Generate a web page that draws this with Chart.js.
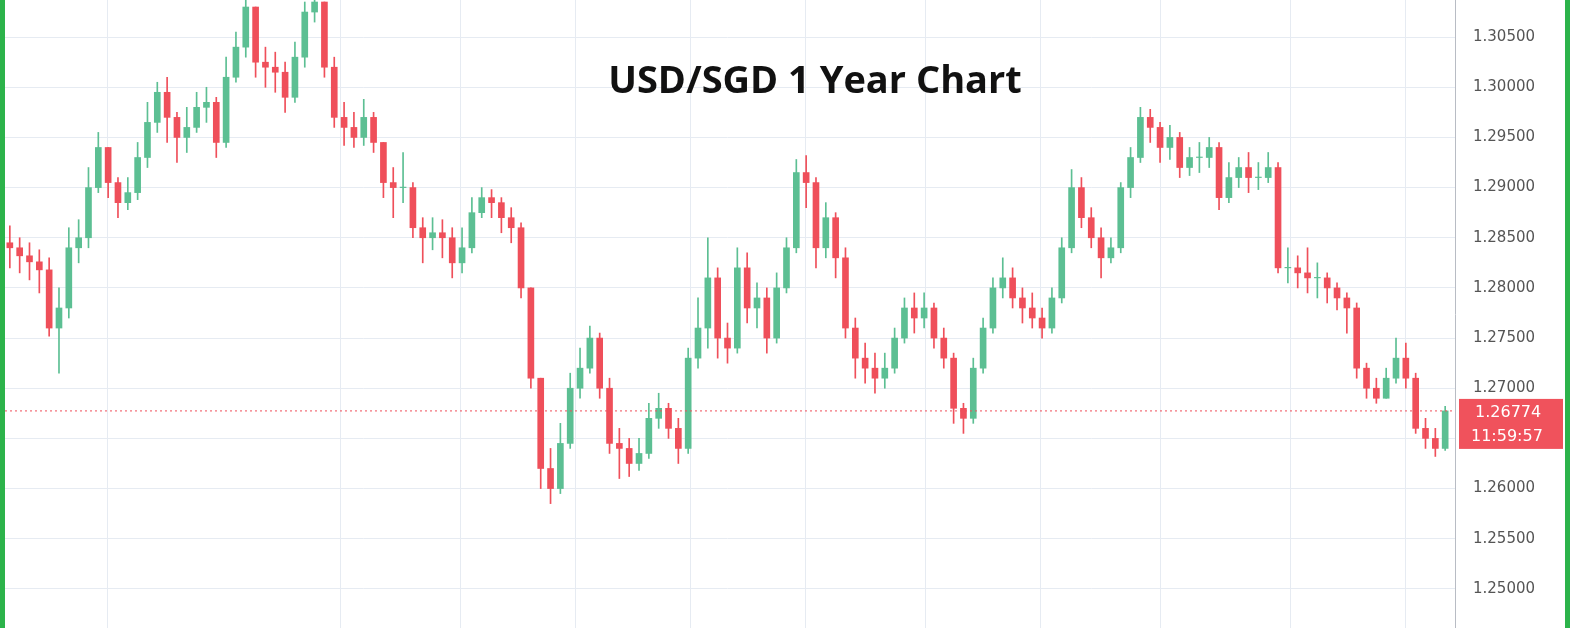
<!DOCTYPE html>
<html lang="en">
<head>
  <meta charset="UTF-8">
  <title>USD/SGD 1 Year Chart</title>
  <script src="https://cdn.jsdelivr.net/npm/chart.js"></script>
  <style>
    html, body { margin: 0; padding: 0; background: #fff; overflow: hidden; }
    .wrap { position: relative; width: 1570px; height: 628px; overflow: hidden; }
    #chart { position: absolute; left: 0; top: -28px; }
    .title {
      position: absolute; left: 0; width: 1630px; top: 52px; text-align: center;
      font-family: 'Open Sans', sans-serif; font-weight: 700; font-size: 38px; color: #111;
    }
    .edge { position: absolute; top: 0; width: 5px; height: 628px; background: #2cb34a; }
  </style>
</head>
<body>
  <div class="wrap">
    <canvas id="chart" width="1570" height="684"></canvas>
    <div class="title">USD/SGD 1 Year Chart</div>
    <div class="edge" style="left:0"></div>
    <div class="edge" style="right:0"></div>
  </div>
  <script>
    const firstOpen = 1.2845;
    const closes = [
      1.2840, 1.2832, 1.2826, 1.2818, 1.2760, 1.2780, 1.2840, 1.2850, 1.2900, 1.2940,
      1.2905, 1.2885, 1.2895, 1.2930, 1.2965, 1.2995, 1.2970, 1.2950, 1.2960, 1.2980,
      1.2985, 1.2945, 1.3010, 1.3040, 1.3080, 1.3025, 1.3020, 1.3015, 1.2990, 1.3030,
      1.3075, 1.3085, 1.3020, 1.2970, 1.2960, 1.2950, 1.2970, 1.2945, 1.2905, 1.2900,
      1.2900, 1.2860, 1.2850, 1.2855, 1.2850, 1.2825, 1.2840, 1.2875, 1.2890, 1.2885,
      1.2870, 1.2860, 1.2800, 1.2710, 1.2620, 1.2600, 1.2645, 1.2700, 1.2720, 1.2750,
      1.2700, 1.2645, 1.2640, 1.2625, 1.2635, 1.2670, 1.2680, 1.2660, 1.2640, 1.2730,
      1.2760, 1.2810, 1.2750, 1.2740, 1.2820, 1.2780, 1.2790, 1.2750, 1.2800, 1.2840,
      1.2915, 1.2905, 1.2840, 1.2870, 1.2830, 1.2760, 1.2730, 1.2720, 1.2710, 1.2720,
      1.2750, 1.2780, 1.2770, 1.2780, 1.2750, 1.2730, 1.2680, 1.2670, 1.2720, 1.2760,
      1.2800, 1.2810, 1.2790, 1.2780, 1.2770, 1.2760, 1.2790, 1.2840, 1.2900, 1.2870,
      1.2850, 1.2830, 1.2840, 1.2900, 1.2930, 1.2970, 1.2960, 1.2940, 1.2950, 1.2920,
      1.2930, 1.2930, 1.2940, 1.2890, 1.2910, 1.2920, 1.2910, 1.2910, 1.2920, 1.2820,
      1.2820, 1.2815, 1.2810, 1.2810, 1.2800, 1.2790, 1.2780, 1.2720, 1.2700, 1.2690,
      1.2710, 1.2730, 1.2710, 1.2660, 1.2650, 1.2640, 1.26774
    ];
    const highs = [
      1.2862, 1.2850, 1.2845, 1.2838, 1.2830, 1.2800, 1.2860, 1.2868, 1.2920, 1.2955,
      1.2940, 1.2910, 1.2910, 1.2945, 1.2985, 1.3005, 1.3010, 1.2975, 1.2980, 1.2995,
      1.3000, 1.2990, 1.3030, 1.3055, 1.3088, 1.3080, 1.3040, 1.3035, 1.3025, 1.3045,
      1.3085, 1.3092, 1.3085, 1.3030, 1.2985, 1.2975, 1.2988, 1.2975, 1.2945, 1.2920,
      1.2935, 1.2905, 1.2870, 1.2870, 1.2868, 1.2860, 1.2860, 1.2890, 1.2900, 1.2898,
      1.2890, 1.2880, 1.2865, 1.2800, 1.2710, 1.2640, 1.2665, 1.2715, 1.2740, 1.2762,
      1.2755, 1.2710, 1.2660, 1.2650, 1.2650, 1.2685, 1.2695, 1.2685, 1.2670, 1.2740,
      1.2790, 1.2850, 1.2820, 1.2765, 1.2840, 1.2835, 1.2805, 1.2800, 1.2815, 1.2850,
      1.2928, 1.2932, 1.2910, 1.2885, 1.2875, 1.2840, 1.2770, 1.2745, 1.2735, 1.2735,
      1.2760, 1.2790, 1.2795, 1.2795, 1.2785, 1.2760, 1.2735, 1.2685, 1.2730, 1.2770,
      1.2810, 1.2830, 1.2820, 1.2800, 1.2795, 1.2780, 1.2800, 1.2850, 1.2918, 1.2910,
      1.2880, 1.2860, 1.2850, 1.2905, 1.2940, 1.2980, 1.2978, 1.2965, 1.2962, 1.2955,
      1.2940, 1.2945, 1.2950, 1.2945, 1.2925, 1.2930, 1.2935, 1.2925, 1.2935, 1.2925,
      1.2840, 1.2832, 1.2840, 1.2825, 1.2815, 1.2805, 1.2795, 1.2785, 1.2725, 1.2710,
      1.2720, 1.2750, 1.2745, 1.2715, 1.2670, 1.2660, 1.2682
    ];
    const lows = [
      1.2820, 1.2815, 1.2808, 1.2795, 1.2752, 1.2715, 1.2770, 1.2825, 1.2840, 1.2895,
      1.2890, 1.2870, 1.2878, 1.2888, 1.2920, 1.2955, 1.2945, 1.2925, 1.2935, 1.2955,
      1.2965, 1.2930, 1.2940, 1.3005, 1.3030, 1.3010, 1.3000, 1.2995, 1.2975, 1.2985,
      1.3020, 1.3065, 1.3010, 1.2960, 1.2942, 1.2940, 1.2942, 1.2935, 1.2890, 1.2870,
      1.2885, 1.2850, 1.2825, 1.2838, 1.2830, 1.2810, 1.2815, 1.2835, 1.2870, 1.2870,
      1.2855, 1.2845, 1.2790, 1.2700, 1.2600, 1.2585, 1.2595, 1.2640, 1.2690, 1.2715,
      1.2690, 1.2635, 1.2610, 1.2612, 1.2618, 1.2630, 1.2660, 1.2650, 1.2625, 1.2635,
      1.2720, 1.2740, 1.2730, 1.2725, 1.2735, 1.2765, 1.2760, 1.2735, 1.2745, 1.2795,
      1.2835, 1.2880, 1.2820, 1.2830, 1.2810, 1.2750, 1.2710, 1.2705, 1.2695, 1.2700,
      1.2715, 1.2745, 1.2755, 1.2760, 1.2740, 1.2720, 1.2665, 1.2655, 1.2665, 1.2715,
      1.2755, 1.2790, 1.2780, 1.2765, 1.2760, 1.2750, 1.2755, 1.2785, 1.2835, 1.2860,
      1.2840, 1.2810, 1.2825, 1.2835, 1.2890, 1.2925, 1.2945, 1.2925, 1.2928, 1.2910,
      1.2912, 1.2915, 1.2920, 1.2878, 1.2885, 1.2900, 1.2895, 1.2898, 1.2905, 1.2815,
      1.2805, 1.2800, 1.2795, 1.2790, 1.2785, 1.2778, 1.2755, 1.2710, 1.2690, 1.2685,
      1.2690, 1.2705, 1.2700, 1.2655, 1.2640, 1.2632, 1.2638
    ];
    const monthGridAt = [9.9, 33.6, 45.8, 57.5, 69.2, 80.9, 93.1, 104.8, 117, 130.2, 141.9];
    const yTicks = [1.250, 1.255, 1.260, 1.265, 1.270, 1.275, 1.280, 1.285, 1.290, 1.295, 1.300, 1.305];
    const lastPrice = 1.26774;
    const timeLeft = '11:59:57';

    const opens = closes.map((c, i) => i === 0 ? firstOpen : closes[i - 1]);
    const up = closes.map((c, i) => c >= opens[i]);
    const colors = up.map(u => u ? '#5cbf93' : '#ef4f5a');

    const bodies = closes.map((c, i) => ({ x: i, y: [opens[i], c === opens[i] ? c + 0.00005 : c] }));
    const wicks = closes.map((c, i) => ({ x: i, y: [lows[i], highs[i]] }));

    // vertical month lines, drawn from the x scale
    const monthGrid = {
      id: 'monthGrid',
      beforeDatasetsDraw(chart) {
        const { ctx, chartArea, scales } = chart;
        ctx.save();
        ctx.strokeStyle = '#e6ebf2';
        ctx.lineWidth = 1;
        monthGridAt.forEach(v => {
          const x = Math.round(scales.x.getPixelForValue(v)) + 0.5;
          ctx.beginPath();
          ctx.moveTo(x, chartArea.top);
          ctx.lineTo(x, chartArea.bottom);
          ctx.stroke();
        });
        ctx.restore();
      }
    };

    const priceLine = {
      id: 'priceLine',
      afterDatasetsDraw(chart) {
        const { ctx, chartArea, scales } = chart;
        const y = scales.y.getPixelForValue(lastPrice);
        ctx.save();
        ctx.strokeStyle = '#ef4f5a';
        ctx.lineWidth = 1;
        ctx.setLineDash([2, 3]);
        ctx.beginPath();
        ctx.moveTo(chartArea.left, y);
        ctx.lineTo(chartArea.right, y);
        ctx.stroke();
        ctx.setLineDash([]);
        ctx.fillStyle = '#f0525c';
        ctx.fillRect(chartArea.right + 4, y - 12, 104, 50);
        ctx.fillStyle = '#fff';
        ctx.font = '16px "DejaVu Sans", sans-serif';
        ctx.textAlign = 'left';
        ctx.textBaseline = 'middle';
        ctx.fillText(lastPrice.toFixed(5), chartArea.right + 20, y + 2);
        ctx.fillText(timeLeft, chartArea.right + 16, y + 26);
        ctx.restore();
      }
    };

    new Chart(document.getElementById('chart').getContext('2d'), {
      type: 'bar',
      data: {
        datasets: [
          { data: wicks, backgroundColor: colors, barThickness: 1, grouped: false, order: 2 },
          { data: bodies, backgroundColor: colors, barThickness: 6, grouped: false, order: 1 }
        ]
      },
      options: {
        responsive: false,
        animation: false,
        plugins: { legend: { display: false }, tooltip: { enabled: false } },
        scales: {
          x: { type: 'linear', min: -1, max: 147, offset: false, display: false },
          y: {
            position: 'right', min: 1.2460, max: 1.3088,
            afterBuildTicks: s => { s.ticks = yTicks.map(v => ({ value: v })); },
            afterFit: s => { s.width = 115; },
            ticks: {
              color: '#555', font: { family: 'DejaVu Sans', size: 15 }, padding: 18,
              callback: v => v.toFixed(5)
            },
            grid: { color: '#e6ebf2', drawTicks: false },
            border: { display: true, color: '#b8bcc4' }
          }
        }
      },
      plugins: [monthGrid, priceLine]
    });
  </script>
</body>
</html>
